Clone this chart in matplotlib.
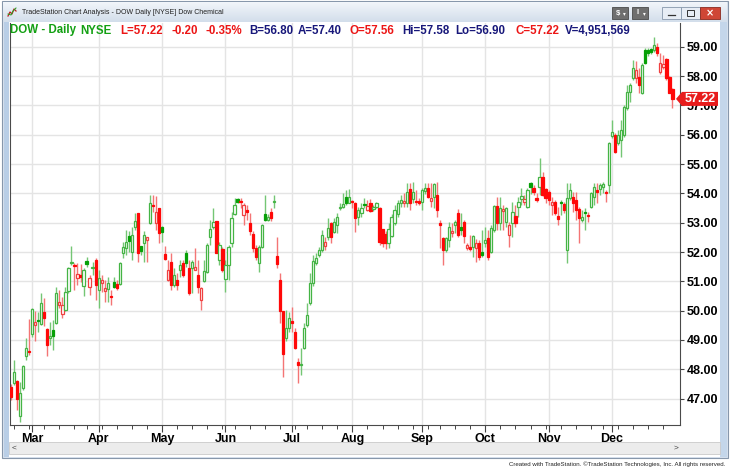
import numpy as np
import pandas as pd
import matplotlib
matplotlib.use('Agg')
import matplotlib.pyplot as plt
from matplotlib.patches import Rectangle, Polygon

W, H = 731, 476

# trading days shown on the chart (NYSE 2016)
holidays = ['2016-03-25', '2016-05-30', '2016-07-04', '2016-09-05', '2016-11-24', '2016-12-26']
dates = pd.bdate_range('2016-02-19', '2016-12-30', freq='C', holidays=holidays)

# daily OHLC
opens = [
    47.40, 47.52, 47.60, 46.40, 47.35, 48.45, 48.62, 49.20, 49.50, 49.67,
    49.55, 49.95, 49.36, 49.08, 49.34, 49.57, 50.19, 49.88, 50.03, 50.66,
    51.63, 51.56, 51.10, 51.20, 50.83, 51.68, 50.82, 51.45, 51.72, 50.70,
    50.93, 50.67, 50.75, 50.47, 50.99, 50.90, 50.92, 51.96, 52.13, 52.55,
    52.01, 52.86, 53.32, 52.20, 52.30, 52.41, 52.98, 53.62, 53.00, 53.49,
    52.86, 51.93, 51.05, 51.67, 50.88, 51.05, 51.39, 51.61, 51.98, 51.44,
    51.44, 51.40, 51.22, 50.36, 51.02, 51.33, 52.52, 52.86, 53.07, 51.73,
    52.10, 51.07, 51.56, 52.30, 53.30, 53.80, 53.75, 53.26, 53.40, 53.00,
    52.60, 52.13, 51.61, 52.18, 53.28, 53.10, 53.38, 53.70, 51.88, 51.05,
    49.99, 49.06, 49.42, 49.66, 49.28, 48.26, 48.15, 48.74, 49.50, 50.25,
    50.95, 51.64, 51.90, 52.07, 52.20, 52.52, 52.98, 52.69, 52.92, 53.49,
    53.52, 53.89, 53.68, 53.75, 53.66, 53.20, 53.32, 53.65, 53.43, 53.66,
    53.45, 53.55, 53.49, 52.77, 52.60, 52.32, 52.55, 52.98, 53.28, 53.66,
    53.66, 53.66, 54.14, 53.80, 53.75, 53.75, 53.72, 54.09, 54.17, 53.75,
    53.89, 53.94, 53.00, 52.49, 52.07, 52.41, 52.64, 52.92, 53.34, 52.86,
    53.03, 52.13, 52.18, 52.18, 52.15, 52.32, 52.01, 52.32, 52.47, 52.01,
    52.75, 53.57, 53.00, 53.41, 53.03, 52.58, 52.98, 53.23, 53.55, 53.80,
    53.72, 53.55, 54.34, 54.17, 53.84, 54.20, 54.55, 54.14, 54.06, 53.60,
    53.72, 53.23, 53.72, 53.63, 52.07, 53.83, 53.89, 53.77, 53.46, 53.09,
    53.38, 53.25, 53.55, 53.89, 54.09, 54.14, 54.20, 54.06, 54.28, 55.95,
    55.99, 55.71, 55.82, 55.99, 56.90, 57.47, 57.92, 57.92, 57.98, 57.41,
    58.90, 58.90, 58.92, 58.90, 59.00, 58.15, 58.30, 58.57, 57.98, 57.56,
]
highs = [
    47.50, 48.30, 47.65, 47.58, 48.15, 49.06, 49.70, 50.10, 49.99, 49.97,
    50.59, 50.42, 49.40, 49.60, 49.68, 50.82, 50.70, 50.48, 50.82, 51.50,
    52.20, 51.62, 51.62, 51.60, 51.44, 51.84, 51.22, 51.67, 51.78, 51.38,
    51.22, 51.05, 51.16, 50.70, 51.16, 51.05, 51.67, 52.35, 52.75, 52.70,
    52.86, 53.32, 53.33, 52.22, 52.70, 52.52, 53.94, 53.95, 53.90, 53.50,
    52.87, 52.20, 51.72, 51.95, 51.45, 51.28, 51.73, 51.73, 52.07, 51.73,
    51.73, 52.13, 51.73, 50.82, 51.73, 52.30, 53.09, 53.49, 53.07, 52.35,
    52.18, 51.73, 52.24, 53.35, 53.85, 53.85, 53.83, 53.66, 53.60, 53.32,
    52.70, 52.24, 52.24, 52.95, 53.94, 53.30, 53.50, 53.94, 52.52, 51.27,
    50.00, 50.03, 49.97, 50.14, 49.40, 48.37, 48.72, 49.57, 50.25, 51.27,
    51.90, 51.95, 52.18, 52.75, 52.52, 53.15, 53.03, 53.15, 53.32, 53.66,
    54.00, 54.10, 54.15, 53.77, 53.72, 53.55, 53.66, 53.83, 53.77, 53.80,
    53.60, 53.72, 53.55, 52.80, 52.70, 53.00, 53.30, 53.60, 53.77, 53.94,
    54.00, 54.34, 54.34, 54.40, 54.10, 53.83, 54.17, 54.34, 54.34, 54.34,
    54.34, 54.40, 53.09, 52.52, 52.52, 53.03, 52.98, 53.09, 53.45, 53.32,
    53.09, 52.30, 52.58, 52.58, 52.45, 52.40, 52.75, 52.86, 52.75, 52.92,
    53.60, 53.89, 53.89, 53.60, 53.55, 53.03, 53.72, 53.60, 53.89, 54.17,
    53.94, 54.17, 54.40, 54.28, 54.00, 55.19, 54.74, 54.17, 54.12, 53.89,
    53.77, 53.55, 53.77, 53.72, 54.34, 54.34, 54.06, 54.06, 53.55, 53.43,
    53.49, 53.38, 54.06, 54.34, 54.34, 54.34, 54.40, 54.12, 55.75, 56.50,
    56.05, 56.16, 56.50, 57.00, 57.70, 57.75, 58.55, 58.50, 58.26, 58.43,
    58.95, 58.95, 58.95, 59.34, 59.12, 58.77, 58.72, 58.60, 58.00, 57.58,
]
lows = [
    46.95, 47.45, 46.60, 46.20, 47.30, 48.32, 48.50, 49.10, 48.95, 49.28,
    49.50, 49.49, 48.47, 48.83, 48.66, 49.55, 50.10, 49.74, 49.98, 50.60,
    51.55, 50.70, 50.88, 50.99, 50.51, 51.48, 50.53, 51.22, 50.36, 50.08,
    50.65, 50.30, 50.30, 50.20, 50.76, 50.70, 50.88, 51.78, 51.90, 52.00,
    51.73, 52.75, 51.67, 51.90, 51.67, 51.67, 52.95, 53.35, 52.75, 52.30,
    52.35, 51.72, 51.00, 50.70, 50.82, 50.70, 51.15, 51.15, 51.50, 50.54,
    50.60, 51.38, 50.60, 50.02, 50.98, 51.27, 52.24, 52.80, 51.95, 51.56,
    51.33, 50.65, 51.05, 52.18, 53.25, 53.66, 53.49, 52.92, 53.09, 52.58,
    52.00, 51.73, 51.31, 52.13, 53.05, 53.05, 53.06, 53.51, 51.44, 49.57,
    47.75, 48.95, 49.28, 49.28, 48.70, 47.52, 47.80, 48.70, 49.45, 50.20,
    50.85, 51.55, 51.84, 52.00, 52.07, 52.41, 52.30, 52.64, 52.64, 53.43,
    53.49, 53.60, 53.66, 53.50, 52.69, 52.92, 53.20, 53.50, 53.40, 53.37,
    53.40, 53.50, 52.24, 52.18, 52.10, 52.13, 52.50, 52.92, 53.20, 53.55,
    53.55, 53.55, 53.43, 53.66, 53.60, 53.60, 53.43, 53.99, 53.83, 53.55,
    53.49, 53.20, 52.13, 51.56, 52.00, 52.18, 52.52, 52.64, 52.52, 52.58,
    52.30, 52.07, 52.05, 51.84, 51.67, 51.73, 51.84, 52.18, 51.73, 51.95,
    52.69, 52.75, 52.75, 52.75, 52.86, 52.18, 52.52, 52.86, 53.20, 53.60,
    53.60, 53.49, 53.99, 53.94, 53.72, 53.94, 53.90, 53.66, 53.60, 53.26,
    53.26, 52.92, 53.26, 53.32, 51.62, 53.77, 53.38, 53.09, 52.30, 53.03,
    52.75, 53.03, 53.49, 53.60, 53.66, 53.94, 54.00, 53.72, 54.00, 55.90,
    55.36, 55.65, 55.25, 55.93, 56.85, 57.12, 57.86, 57.75, 57.41, 57.40,
    58.40, 58.70, 58.75, 58.83, 58.70, 58.08, 58.25, 57.86, 57.41, 56.90,
]
closes = [
    47.07, 47.90, 47.00, 47.18, 48.10, 48.72, 48.58, 50.06, 49.60, 49.63,
    50.27, 49.76, 48.83, 49.12, 49.15, 50.59, 50.28, 50.19, 50.65, 51.44,
    51.67, 51.52, 51.24, 51.15, 51.38, 51.60, 51.10, 51.50, 50.88, 51.10,
    51.05, 50.76, 50.93, 50.45, 50.82, 50.77, 51.64, 52.18, 52.35, 52.38,
    52.58, 53.06, 51.98, 52.02, 52.58, 52.50, 53.66, 53.58, 53.37, 52.64,
    52.69, 51.76, 51.39, 50.88, 51.22, 50.88, 51.56, 51.22, 51.61, 50.59,
    51.67, 51.48, 50.82, 50.76, 51.36, 52.24, 52.80, 53.03, 51.98, 52.24,
    51.39, 51.56, 52.18, 53.15, 53.60, 53.72, 53.69, 53.60, 53.38, 52.70,
    52.13, 51.84, 52.18, 52.92, 53.10, 53.20, 53.16, 53.74, 51.58, 49.99,
    48.51, 49.40, 49.74, 49.57, 48.74, 48.15, 48.19, 49.40, 49.85, 50.93,
    51.70, 51.78, 52.07, 52.58, 52.35, 52.81, 52.52, 53.03, 53.20, 53.53,
    53.65, 53.68, 53.89, 53.70, 53.15, 53.43, 53.49, 53.60, 53.57, 53.41,
    53.55, 53.66, 52.35, 52.32, 52.30, 52.77, 53.20, 53.43, 53.66, 53.77,
    53.74, 54.06, 53.66, 54.06, 53.70, 53.66, 54.11, 54.17, 53.89, 53.85,
    54.32, 53.43, 52.92, 52.07, 52.47, 52.86, 52.72, 53.03, 52.58, 52.75,
    52.55, 52.24, 52.10, 52.55, 52.30, 51.84, 51.90, 52.41, 51.84, 52.81,
    53.57, 52.98, 53.50, 53.45, 53.50, 52.92, 53.38, 52.98, 53.72, 53.92,
    53.80, 54.11, 54.23, 54.06, 53.77, 54.55, 53.94, 53.83, 53.77, 53.72,
    53.32, 53.12, 53.66, 53.43, 53.83, 54.11, 53.66, 53.43, 53.15, 53.21,
    53.32, 53.23, 54.00, 54.23, 54.06, 54.28, 54.32, 54.00, 55.71, 56.10,
    55.42, 55.99, 56.16, 56.96, 57.47, 57.70, 58.26, 58.20, 57.70, 58.38,
    58.45, 58.80, 58.82, 59.06, 58.77, 58.45, 58.40, 57.92, 57.42, 57.22,
]

price_ticks = np.arange(47, 60)

# header line: (text, colour, left x in px)
header = [
    ('DOW - Daily', '#13a013', 10), ('NYSE', '#13a013', 80),
    ('L=57.22', '#ec1515', 120), ('-0.20', '#ec1515', 171), ('-0.35%', '#ec1515', 205),
    ('B=56.80', '#17177a', 249), ('A=57.40', '#17177a', 298),
    ('O=57.56', '#ec1515', 350), ('Hi=57.58', '#17177a', 402),
    ('Lo=56.90', '#17177a', 455), ('C=57.22', '#ec1515', 515),
    ('V=4,951,569', '#17177a', 565),
]
last_price = closes[-1]

FONT = ['Liberation Sans', 'DejaVu Sans']
plt.rcParams['font.family'] = FONT


def px_box(x0, y0, x1, y1):
    return [x0 / W, 1 - y1 / H, (x1 - x0) / W, (y1 - y0) / H]


fig = plt.figure(figsize=(W / 100, H / 100), dpi=100)

# window chrome, drawn in pixel coordinates
bg = fig.add_axes([0, 0, 1, 1])
bg.set_xlim(0, W)
bg.set_ylim(H, 0)
bg.axis('off')
bg.add_patch(Rectangle((2, 1), 726, 457, fc='#d9e3ef', ec='#8797ab', lw=0.8))
grad = np.linspace(0, 1, 20)[:, None]
bg.imshow(grad, cmap=matplotlib.colors.LinearSegmentedColormap.from_list('t', ['#f1f5fa', '#d3deeb']),
          extent=(3, 727, 22, 2), aspect='auto', zorder=1)
bg.text(22, 12.5, 'TradeStation Chart Analysis - DOW Daily [NYSE] Dow Chemical',
        fontsize=5.0, color='#202020', va='center', zorder=3)
bg.plot([8, 10, 12, 14, 16], [16, 12, 14, 9, 11], color='#c02020', lw=0.9, zorder=3)
bg.plot([8, 11, 13, 16], [14, 15, 11, 8], color='#20a020', lw=0.7, zorder=3)
for x0, lab in [(612, '$'), (632, 'I')]:
    bg.add_patch(Rectangle((x0, 7), 16, 12, fc='#6f6f6f', ec='#4a4a4a', lw=0.6, zorder=3))
    bg.text(x0 + 6, 13, lab, fontsize=5.5, color='white', ha='center', va='center',
            fontweight='bold', zorder=4)
    bg.text(x0 + 12, 13.5, '\u25be', fontsize=4, color='white', ha='center', va='center',
            family='DejaVu Sans', zorder=4)
for x0 in (662, 681):
    bg.add_patch(Rectangle((x0, 7), 19, 12, fc='#e7edf5', ec='#8797ab', lw=0.6, zorder=3))
bg.plot([668, 675], [14.5, 14.5], color='#333333', lw=0.9, zorder=4)
bg.add_patch(Rectangle((687, 10), 7, 6, fc='none', ec='#333333', lw=0.7, zorder=4))
bg.add_patch(Rectangle((700, 7), 20, 12, fc='#cf4636', ec='#8a2a20', lw=0.6, zorder=3))
bg.text(710, 13, '\u00d7', fontsize=7, color='white', ha='center', va='center',
        family='DejaVu Sans', fontweight='bold', zorder=4)
bg.add_patch(Rectangle((4, 22), 5, 435, fc='#b9cee6', ec='none', zorder=2))
bg.add_patch(Rectangle((9, 22), 711, 435, fc='white', ec='none', zorder=2))
bg.add_patch(Rectangle((720, 22), 7, 435, fc='#c4d6ea', ec='none', zorder=2))
bg.add_patch(Rectangle((9, 442), 711, 12, fc='#ececec', ec='#c9c9c9', lw=0.6, zorder=3))
bg.text(14, 448, '<', fontsize=6, color='#444444', ha='center', va='center', zorder=4)
bg.text(676, 448, '>', fontsize=6, color='#444444', ha='center', va='center', zorder=4)
bg.text(725, 464, 'Created with TradeStation. \u00a9TradeStation Technologies, Inc. All rights reserved.',
        fontsize=4.4, color='#222222', ha='right', va='center', zorder=4)

# price chart
ax = fig.add_axes(px_box(10, 23, 680, 425))
ax.set_facecolor('white')
idx = np.arange(len(dates))
o, h, l, c = (np.array(v) for v in (opens, highs, lows, closes))
prev = np.r_[o[0], c[:-1]]
up = c >= prev
hollow = c > o
fill = np.where(up, '#07a007', '#ff0808')
face = np.where(hollow, 'white', fill)
edge = np.where(hollow, np.where(up, '#45b445', '#f04040'), fill)
wick = np.where(up, '#74c674', '#f47575')
ax.vlines(idx, l, h, colors=wick, lw=1.0, zorder=2)
ax.bar(idx, np.maximum(np.abs(c - o), 0.04), bottom=np.minimum(o, c), width=0.74,
       color=face, edgecolor=edge, lw=0.9, zorder=3)

ax.set_xlim(-0.35, 221.5)
ax.set_ylim(46.10, 59.81)

month_start = [i for i in range(1, len(dates)) if dates[i].month != dates[i - 1].month]
week_start = [i for i in range(1, len(dates)) if dates[i].weekday() < dates[i - 1].weekday()]
ax.set_xticks(month_start)
ax.set_xticklabels([dates[i].strftime('%b') for i in month_start], fontsize=9, fontweight='bold')
ax.set_xticks(week_start, minor=True)
ax.tick_params(axis='x', which='major', length=5, width=0.8, color='#444444', pad=0.5)
ax.tick_params(axis='x', which='minor', length=3, width=0.7, color='#444444')

ax.yaxis.tick_right()
ax.set_yticks(price_ticks)
ax.set_yticklabels([f'{v:.2f}' for v in price_ticks], fontsize=9, fontweight='bold')
ax.tick_params(axis='y', length=3, width=0.8, color='#444444', pad=2)

ax.grid(True, which='major', color='#e4e4e4', lw=1)
ax.set_axisbelow(True)
ax.spines['top'].set_visible(False)
for side in ('left', 'right', 'bottom'):
    ax.spines[side].set_color('#4a4a4a')
    ax.spines[side].set_linewidth(0.8)

# overlay: header line and last price tag
top = fig.add_axes([0, 0, 1, 1], zorder=5)
top.set_xlim(0, W)
top.set_ylim(H, 0)
top.axis('off')
for txt, col, x in header:
    top.text(x, 30.5, txt, color=col, fontsize=8.3, fontweight='bold', va='center')
tag_y = 46.7 + (59 - last_price) * 29.33
top.add_patch(Polygon([(676, tag_y), (682, tag_y - 7), (718, tag_y - 7), (718, tag_y + 7),
                       (682, tag_y + 7)], closed=True, fc='#e81c1c', ec='none'))
top.text(700, tag_y, f'{last_price:.2f}', color='white', fontsize=9, fontweight='bold',
         ha='center', va='center')

fig.savefig('out.png', dpi=100)
